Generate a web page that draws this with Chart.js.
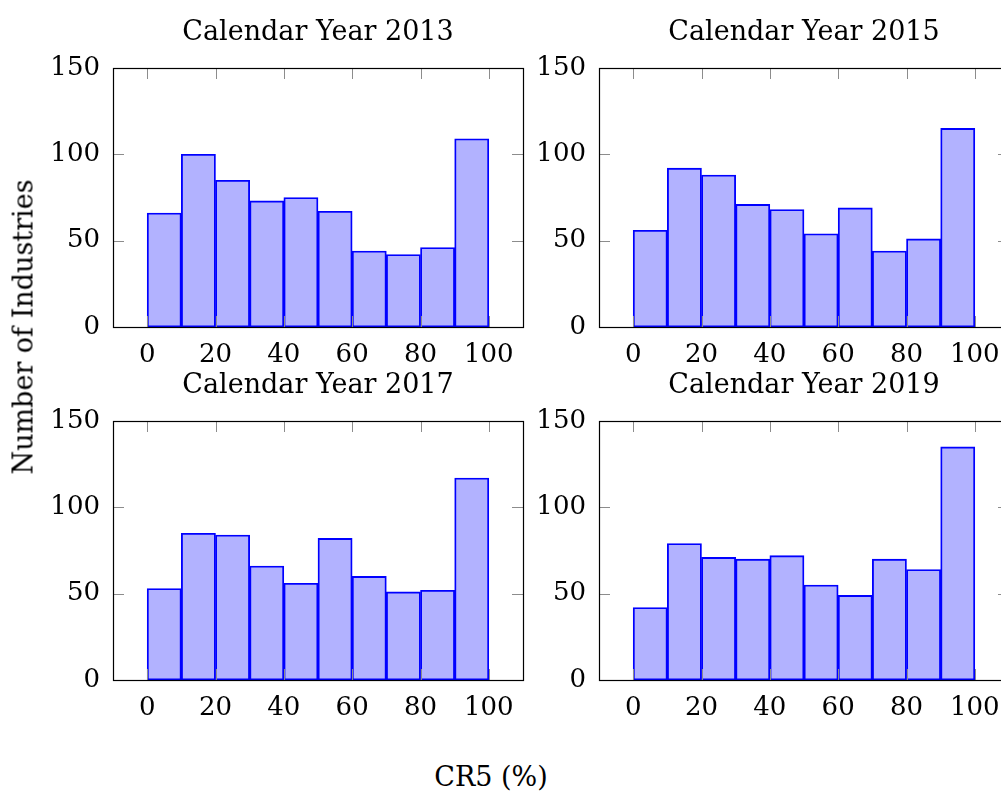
<!DOCTYPE html>
<html>
<head>
<meta charset="utf-8">
<script src="https://cdn.jsdelivr.net/npm/chart.js@4.4.1/dist/chart.umd.min.js"></script>
<style>
html, body { margin: 0; padding: 0; width: 1001px; height: 792px; overflow: hidden; background: #fff; }
.panel { position: absolute; width: 543px; height: 372px; }
.lbl { position: absolute; font-family: 'DejaVu Serif', serif; font-size: 27px; line-height: 1; color: #000; white-space: nowrap; }
#ylab { left: 23px; top: 327px; transform: translate(-50%, -50%) rotate(-90deg); }
#xlab { left: 491px; top: 776px; transform: translate(-50%, -50%); }
</style>
</head>
<body>
<div class="panel" style="left:0px;top:0px"><canvas id="c2013"></canvas></div>
<div class="panel" style="left:486px;top:0px"><canvas id="c2015"></canvas></div>
<div class="panel" style="left:0px;top:353px"><canvas id="c2017"></canvas></div>
<div class="panel" style="left:486px;top:353px"><canvas id="c2019"></canvas></div>
<div class="lbl" id="ylab">Number of Industries</div>
<div class="lbl" id="xlab">CR5 (%)</div>
<script>
// histogram bins (CR5 %), 10 wide
const binStarts = [0, 10, 20, 30, 40, 50, 60, 70, 80, 90];
const binWidth = 10;

const counts2013 = [66, 100, 85, 73, 75, 67, 44, 42, 46, 109];
const counts2015 = [56, 92, 88, 71, 68, 54, 69, 44, 51, 115];
const counts2017 = [53, 85, 84, 66, 56, 82, 60, 51, 52, 117];
const counts2019 = [42, 79, 71, 70, 72, 55, 49, 70, 64, 135];

const xTicks = [0, 20, 40, 60, 80, 100];
const yTicks = [0, 50, 100, 150];

const serif = 'DejaVu Serif';

// pgfplots style frame with inward ticks on all four sides
const frame = {
	id: 'frame',
	afterDatasetsDraw(chart) {
		const ctx = chart.ctx;
		const a = chart.chartArea;
		const x = chart.scales.x, y = chart.scales.y;
		const t = 11;
		ctx.save();
		ctx.strokeStyle = '#8c8c8c';
		ctx.lineWidth = 1;
		ctx.beginPath();
		xTicks.forEach(v => {
			const px = Math.round(x.getPixelForValue(v)) + 0.5;
			ctx.moveTo(px, a.bottom); ctx.lineTo(px, a.bottom - t);
			ctx.moveTo(px, a.top); ctx.lineTo(px, a.top + t);
		});
		yTicks.forEach(v => {
			const py = Math.round(y.getPixelForValue(v)) + 0.5;
			ctx.moveTo(a.left, py); ctx.lineTo(a.left + t, py);
			ctx.moveTo(a.right, py); ctx.lineTo(a.right - t, py);
		});
		ctx.stroke();
		ctx.strokeStyle = '#000';
		ctx.lineWidth = 1.2;
		ctx.strokeRect(Math.round(a.left) + 0.5, Math.round(a.top) + 0.5,
			Math.round(a.right - a.left), Math.round(a.bottom - a.top));
		ctx.restore();
	}
};

function makePanel(year, counts) {
	const pts = binStarts.map((s, i) => ({ x: s + binWidth / 2, y: counts[i] }));
	new Chart(document.getElementById('c' + year), {
		type: 'bar',
		data: {
			datasets: [{
				data: pts,
				backgroundColor: 'rgba(0,0,255,0.3)',
				borderColor: '#0000ff',
				borderWidth: 1.2,
				borderSkipped: false,
				barPercentage: 1,
				categoryPercentage: 1
			}]
		},
		options: {
			responsive: true,
			maintainAspectRatio: false,
			animation: false,
			layout: { padding: { left: 0, right: 20, top: 0, bottom: 0 } },
			plugins: {
				legend: { display: false },
				tooltip: { enabled: false },
				title: {
					display: true,
					fullSize: false,
					text: 'Calendar Year ' + year,
					color: '#000',
					font: { family: serif, size: 27, weight: 'normal' },
					padding: { top: 16.5, bottom: 19.1 }
				}
			},
			scales: {
				x: {
					type: 'linear',
					min: -10,
					max: 110,
					offset: false,
					grid: { display: false, drawTicks: false },
					border: { display: false },
					afterBuildTicks: s => { s.ticks = xTicks.map(v => ({ value: v })); },
					afterFit: s => { s.height = 45; },
					ticks: {
						color: '#000',
						font: { family: serif, size: 26 },
						padding: 13,
						maxRotation: 0,
						autoSkip: false
					}
				},
				y: {
					min: 0,
					max: 150,
					grid: { display: false, drawTicks: false },
					border: { display: false },
					afterBuildTicks: s => { s.ticks = yTicks.map(v => ({ value: v })); },
					afterFit: s => { s.width = 113; },
					ticks: {
						color: '#000',
						font: { family: serif, size: 26 },
						padding: 13
					}
				}
			}
		},
		plugins: [frame]
	});
}

makePanel('2013', counts2013);
makePanel('2015', counts2015);
makePanel('2017', counts2017);
makePanel('2019', counts2019);
</script>
</body>
</html>
